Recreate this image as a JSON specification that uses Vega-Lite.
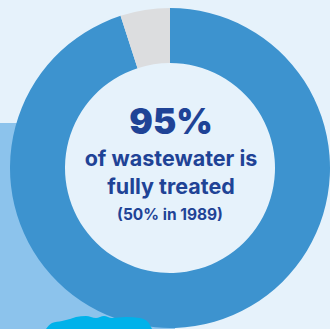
{
  "$schema": "https://vega.github.io/schema/vega-lite/v6.json",
  "width": 330,
  "height": 329,
  "padding": 0,
  "autosize": {"type": "none"},
  "background": "#e6f2fb",
  "config": {"view": {"stroke": null}},
  "datasets": {
    "bg": [{"x": 0, "x2": 175, "y": 123, "y2": 329}],
    "center": [{"cx": 170, "cy": 168}],
    "ring": [
      {"cx": 170, "cy": 168, "part": "Fully treated", "value": 95, "order": 1},
      {"cx": 170, "cy": 168, "part": "Not fully treated", "value": 5, "order": 2}
    ],
    "splash": [
      {"x": 46, "y": 329}, {"x": 52, "y": 323}, {"x": 62, "y": 321}, {"x": 70, "y": 319},
      {"x": 76, "y": 317}, {"x": 86, "y": 316}, {"x": 96, "y": 318}, {"x": 104, "y": 316},
      {"x": 112, "y": 318}, {"x": 126, "y": 317}, {"x": 140, "y": 318}, {"x": 148, "y": 322},
      {"x": 152, "y": 329}
    ],
    "labels": [
      {"x": 171, "y": 134, "text": "95%", "kind": "big"},
      {"x": 171, "y": 166, "text": "of wastewater is", "kind": "mid"},
      {"x": 171, "y": 194, "text": "fully treated", "kind": "mid"},
      {"x": 170, "y": 220, "text": "(50% in 1989)", "kind": "small"}
    ]
  },
  "layer": [
    {
      "data": {"name": "bg"},
      "mark": {"type": "rect", "color": "#8cc3ec"},
      "encoding": {
        "x": {"field": "x", "type": "quantitative", "scale": {"domain": [0, 330], "nice": false, "zero": false}, "axis": null},
        "x2": {"field": "x2"},
        "y": {"field": "y", "type": "quantitative", "scale": {"domain": [329, 0], "nice": false, "zero": false}, "axis": null},
        "y2": {"field": "y2"}
      }
    },
    {
      "data": {"name": "center"},
      "mark": {"type": "arc", "outerRadius": 106, "theta": 0, "theta2": 6.2832, "color": "#e6f2fb"},
      "encoding": {
        "x": {"field": "cx", "type": "quantitative"},
        "y": {"field": "cy", "type": "quantitative"}
      }
    },
    {
      "data": {"name": "ring"},
      "mark": {"type": "arc", "outerRadius": 160, "innerRadius": 105},
      "encoding": {
        "x": {"field": "cx", "type": "quantitative"},
        "y": {"field": "cy", "type": "quantitative"},
        "theta": {"field": "value", "type": "quantitative", "stack": true},
        "order": {"field": "order"},
        "color": {"field": "part", "type": "nominal", "scale": {"domain": ["Fully treated", "Not fully treated"], "range": ["#3d93cf", "#dcdddf"]}, "legend": null}
      }
    },
    {
      "data": {"name": "splash"},
      "mark": {"type": "area", "color": "#00b2ea", "interpolate": "monotone"},
      "encoding": {
        "x": {"field": "x", "type": "quantitative"},
        "y": {"field": "y", "type": "quantitative"},
        "y2": {"datum": 329}
      }
    },
    {
      "data": {"name": "labels"},
      "transform": [{"filter": "datum.kind === 'big'"}],
      "mark": {"type": "text", "align": "center", "baseline": "alphabetic", "font": "Inter", "fontWeight": 900, "fontSize": 35, "color": "#1f4396"},
      "encoding": {
        "x": {"field": "x", "type": "quantitative"},
        "y": {"field": "y", "type": "quantitative"},
        "text": {"field": "text"}
      }
    },
    {
      "data": {"name": "labels"},
      "transform": [{"filter": "datum.kind === 'mid'"}],
      "mark": {"type": "text", "align": "center", "baseline": "alphabetic", "font": "Inter", "fontWeight": 700, "fontSize": 21.5, "color": "#1f4396"},
      "encoding": {
        "x": {"field": "x", "type": "quantitative"},
        "y": {"field": "y", "type": "quantitative"},
        "text": {"field": "text"}
      }
    },
    {
      "data": {"name": "labels"},
      "transform": [{"filter": "datum.kind === 'small'"}],
      "mark": {"type": "text", "align": "center", "baseline": "alphabetic", "font": "Inter", "fontWeight": 700, "fontSize": 15.5, "color": "#1f4396"},
      "encoding": {
        "x": {"field": "x", "type": "quantitative"},
        "y": {"field": "y", "type": "quantitative"},
        "text": {"field": "text"}
      }
    }
  ]
}
